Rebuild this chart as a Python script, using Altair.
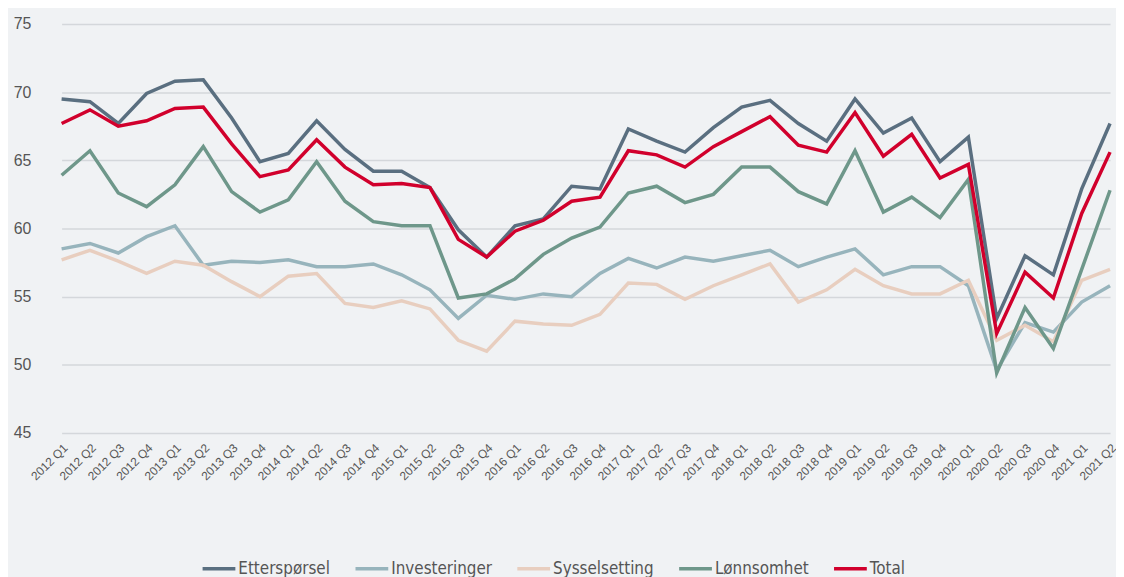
import altair as alt
import pandas as pd

quarters = [f"{y} Q{q}" for y in range(2012, 2022) for q in range(1, 5)][:38]

etterspørsel = [69.5, 69.3, 67.7, 69.9, 70.8, 70.9, 68.1, 64.9, 65.5, 67.9, 65.8, 64.2,
                64.2, 63.0, 59.9, 57.9, 60.2, 60.7, 63.1, 62.9, 67.3, 66.4, 65.6, 67.4,
                68.9, 69.4, 67.7, 66.4, 69.5, 67.0, 68.1, 64.9, 66.7, 53.4, 58.0, 56.6,
                62.9, 67.7]
investeringer = [58.5, 58.9, 58.2, 59.4, 60.2, 57.3, 57.6, 57.5, 57.7, 57.2, 57.2, 57.4,
                 56.6, 55.5, 53.4, 55.1, 54.8, 55.2, 55.0, 56.7, 57.8, 57.1, 57.9, 57.6,
                 58.0, 58.4, 57.2, 57.9, 58.5, 56.6, 57.2, 57.2, 55.8, 49.6, 53.1, 52.4,
                 54.6, 55.8]
sysselsetting = [57.7, 58.4, 57.6, 56.7, 57.6, 57.3, 56.1, 55.0, 56.5, 56.7, 54.5, 54.2,
                 54.7, 54.1, 51.8, 51.0, 53.2, 53.0, 52.9, 53.7, 56.0, 55.9, 54.8, 55.8,
                 56.6, 57.4, 54.6, 55.5, 57.0, 55.8, 55.2, 55.2, 56.2, 51.8, 52.9, 51.7,
                 56.2, 57.0]
lønnsomhet = [63.9, 65.7, 62.6, 61.6, 63.2, 66.0, 62.7, 61.2, 62.1, 64.9, 62.0, 60.5,
              60.2, 60.2, 54.9, 55.2, 56.3, 58.1, 59.3, 60.1, 62.6, 63.1, 61.9, 62.5,
              64.5, 64.5, 62.7, 61.8, 65.7, 61.2, 62.3, 60.8, 63.6, 49.4, 54.2, 51.2,
              57.0, 62.8]
total = [67.7, 68.7, 67.5, 67.9, 68.8, 68.9, 66.2, 63.8, 64.3, 66.5, 64.5, 63.2,
         63.3, 63.0, 59.2, 57.9, 59.8, 60.6, 62.0, 62.3, 65.7, 65.4, 64.5, 66.0,
         67.1, 68.2, 66.1, 65.6, 68.5, 65.3, 66.9, 63.7, 64.7, 52.3, 56.8, 54.9,
         61.1, 65.6]

series_names = ["Etterspørsel", "Investeringer", "Sysselsetting", "Lønnsomhet", "Total"]
series_values = [etterspørsel, investeringer, sysselsetting, lønnsomhet, total]
colors = ["#5a6f80", "#97b4bc", "#e8cebf", "#6e978a", "#d1002c"]
widths = [3.5, 3.5, 3.5, 3.5, 5.5]

rows = []
for name, vals in zip(series_names, series_values):
    for q, v in zip(quarters, vals):
        rows.append({"Kvartal": q, "Serie": name, "Verdi": v})
df = pd.DataFrame(rows)

chart = alt.Chart(df).mark_line(strokeJoin="miter").encode(
    x=alt.X("Kvartal:O", sort=quarters, title=None,
            scale=alt.Scale(type="point", range=[14, 1070], padding=0),
            axis=alt.Axis(labelAngle=-45, labelFontSize=12, labelColor="#555555",
                          labelFont="Liberation Sans", ticks=False, domain=False,
                          grid=False, labelPadding=9, labelOverlap=False)),
    y=alt.Y("Verdi:Q", title=None,
            scale=alt.Scale(domain=[45, 75], nice=False, zero=False),
            axis=alt.Axis(values=[45, 50, 55, 60, 65, 70, 75], labelFontSize=16,
                          labelColor="#555555", labelFont="Liberation Sans",
                          ticks=False, domain=False, grid=True, gridColor="#d4d7db",
                          gridWidth=1.5, labelPadding=17)),
    color=alt.Color("Serie:N", sort=series_names,
                    scale=alt.Scale(domain=series_names, range=colors),
                    legend=alt.Legend(title=None, orient="none", direction="horizontal",
                                      legendX=154, legendY=530,
                                      symbolType="stroke", symbolSize=1089,
                                      symbolStrokeWidth=4, labelFontSize=17,
                                      labelFont="DejaVu Sans Condensed, DejaVu Sans, sans-serif",
                                      labelColor="#555555", columnPadding=18,
                                      labelOffset=1)),
    strokeWidth=alt.StrokeWidth("Serie:N", sort=series_names,
                                scale=alt.Scale(domain=series_names, range=widths),
                                legend=None),
    order=alt.Order("Serie:N"),
).properties(
    width=1076, height=412,
    background="#f0f2f4",
    padding={"left": 40, "top": 14, "right": 0, "bottom": 143},
    autosize=alt.AutoSizeParams(type="none"),
).configure_view(stroke=None)

chart.save("out.html", embed_options={"renderer": "svg", "actions": False})
